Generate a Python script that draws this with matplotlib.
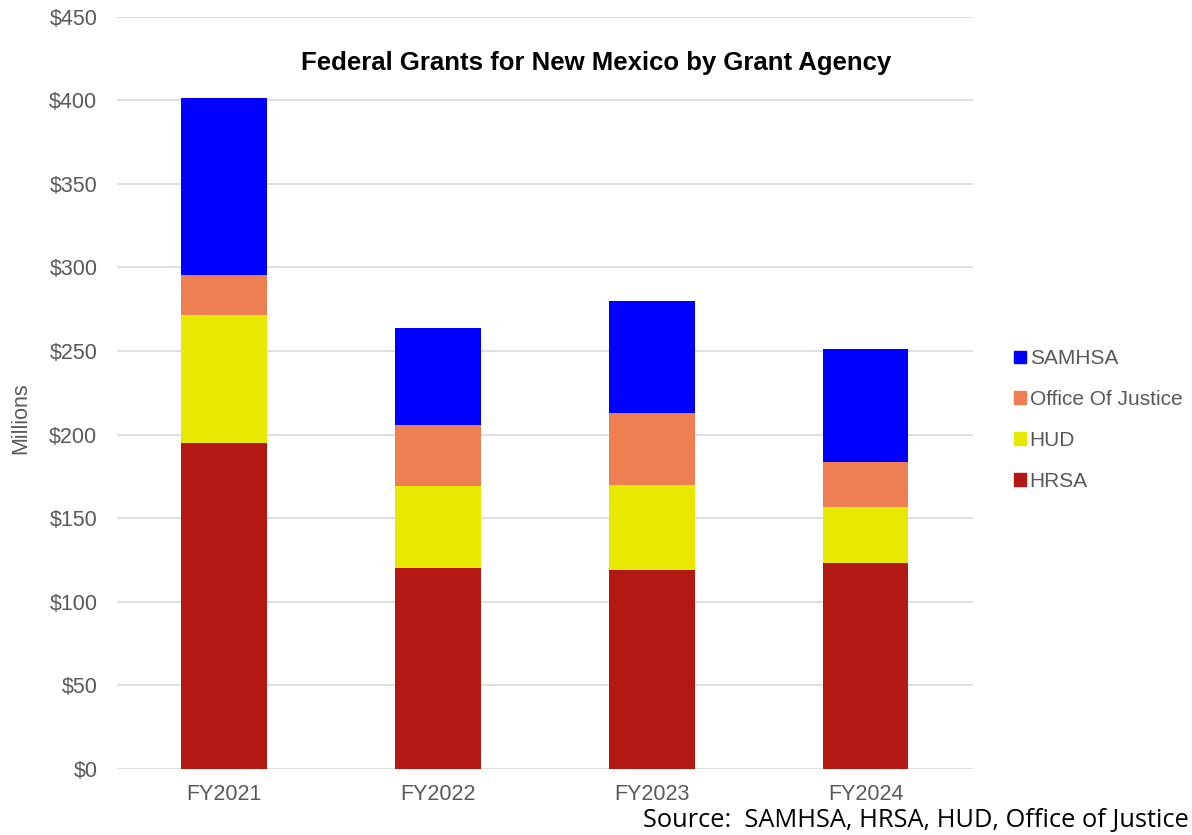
import numpy as np
import matplotlib.pyplot as plt
from matplotlib.patches import Patch

plt.rcParams['font.family'] = ['Liberation Sans', 'DejaVu Sans']

# Datos (millones de dólares)
years = ['FY2021', 'FY2022', 'FY2023', 'FY2024']
hrsa = [195.0, 120.3, 119.1, 123.3]
hud = [76.7, 49.1, 50.9, 33.5]
justice = [23.9, 36.5, 43.0, 26.9]
samhsa = [105.9, 58.0, 67.0, 67.6]

series = [('HRSA', hrsa, '#B31812'),
          ('HUD', hud, '#E8E800'),
          ('Office Of Justice', justice, '#ED7F53'),
          ('SAMHSA', samhsa, '#0000FF')]

fig = plt.figure(figsize=(11.92, 8.35), dpi=100)
ax = fig.add_axes([0.098, 0.079, 0.718, 0.901])

x = np.arange(len(years))
bottom = np.zeros(len(years))
for name, vals, color in series:
    ax.bar(x, vals, width=0.4, bottom=bottom, color=color, zorder=3)
    bottom += np.array(vals)

ax.set_xlim(-0.5, 3.5)
ax.set_ylim(0, 450)
ax.set_yticks(np.arange(0, 451, 50))
ax.set_yticklabels([f'${v}' for v in range(0, 451, 50)])
ax.set_xticks(x)
ax.set_xticklabels(years)
ax.grid(axis='y', color='#D9D9D9', linewidth=1.2, zorder=0)
ax.tick_params(length=0, labelsize=15.5, colors='#595959')
ax.tick_params(axis='y', pad=14)
ax.tick_params(axis='x', pad=11)
for s in ax.spines.values():
    s.set_visible(False)

fig.text(0.017, 0.499, 'Millions', rotation=90, ha='center', va='center',
         fontsize=15.5, color='#595959')

fig.text(0.5, 0.924, 'Federal Grants for New Mexico by Grant Agency',
         ha='center', va='center', fontsize=18.5, fontweight='bold', color='black')

handles = [Patch(color=c, label=n) for n, v, c in reversed(series)]
fig.legend(handles=handles, loc='center left', bbox_to_anchor=(0.835, 0.497),
           frameon=False, fontsize=15, labelcolor='#595959',
           handlelength=0.55, handleheight=0.55, handletextpad=0.2,
           labelspacing=1.05)

fig.text(0.997, 0.002, 'Source:  SAMHSA, HRSA, HUD, Office of Justice',
         ha='right', va='bottom', fontsize=18.3, family=['Open Sans', 'DejaVu Sans'],
         color='black')

fig.savefig('out.png', dpi=100)
